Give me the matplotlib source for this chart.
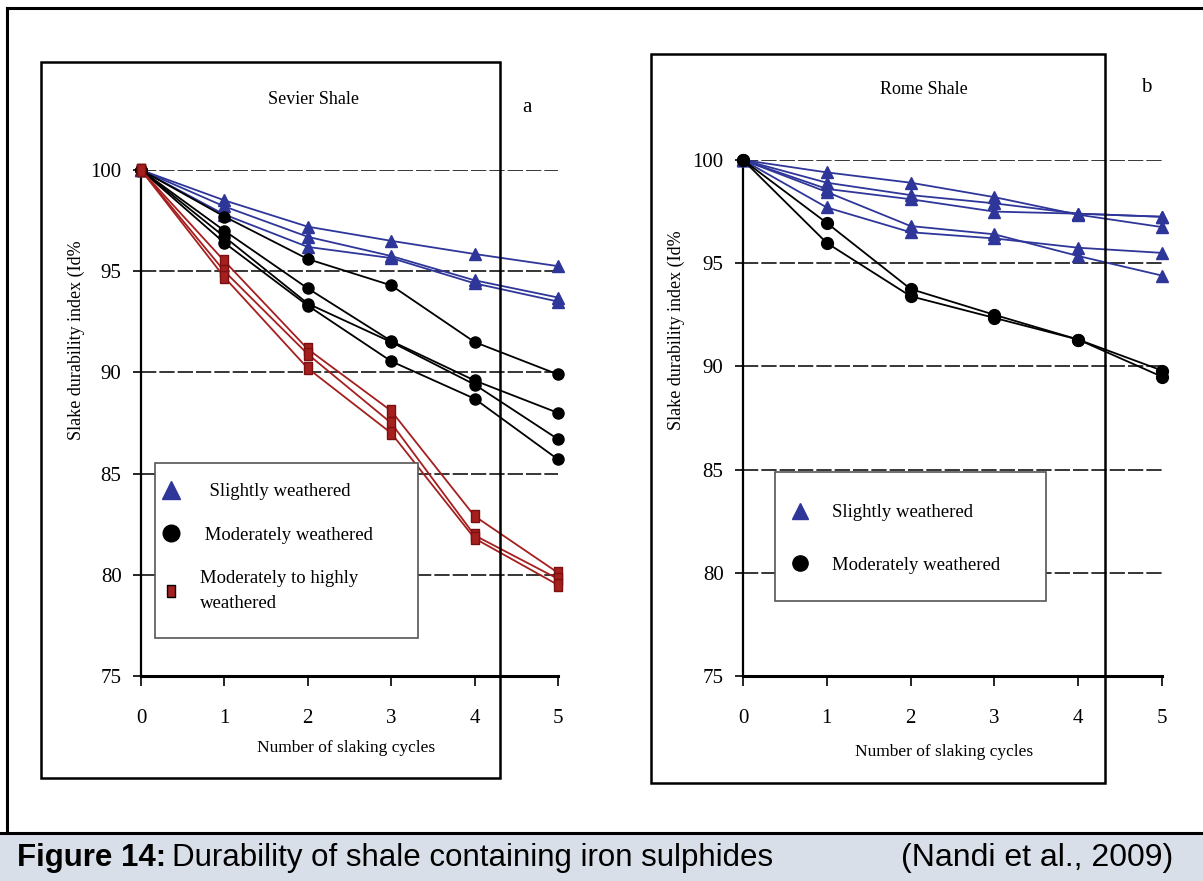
import matplotlib
matplotlib.use("Agg")
import matplotlib.pyplot as plt
from matplotlib.lines import Line2D
from matplotlib.patches import Rectangle

# ---- data ----
cycles = [0, 1, 2, 3, 4, 5]

sevier_slight = [
    [100, 98.5, 97.2, 96.5, 95.85, 95.25],
    [100, 98.2, 96.7, 95.75, 94.55, 93.7],
    [100, 97.8, 96.2, 95.65, 94.4, 93.5],
]
sevier_moderate = [
    [100, 97.7, 95.6, 94.3, 91.5, 89.9],
    [100, 97.0, 94.15, 91.55, 89.6, 88.0],
    [100, 96.7, 93.4, 91.5, 89.4, 86.7],
    [100, 96.4, 93.3, 90.55, 88.7, 85.7],
]
sevier_high = [
    [100, 95.5, 91.15, 88.1, 82.9, 80.1],
    [100, 95.0, 90.9, 87.5, 81.95, 79.8],
    [100, 94.7, 90.2, 87.0, 81.8, 79.5],
]

rome_slight = [
    [100, 99.4, 98.9, 98.2, 97.35, 96.75],
    [100, 98.9, 98.3, 97.9, 97.4, 97.25],
    [100, 98.6, 98.1, 97.5, 97.4, 97.25],
    [100, 98.45, 96.8, 96.4, 95.35, 94.4],
    [100, 97.7, 96.5, 96.2, 95.75, 95.5],
]
rome_moderate = [
    [100, 96.95, 93.75, 92.5, 91.3, 89.8],
    [100, 95.98, 93.4, 92.35, 91.3, 89.5],
]

yticks = [75, 80, 85, 90, 95, 100]

W, H = 1203, 881
BLUE = "#2f3699"
RED = "#a51f1f"
SERIF = "Liberation Serif"
SANS = "Liberation Sans"
rect_marker = [(-0.65, -1), (0.65, -1), (0.65, 1), (-0.65, 1), (-0.65, -1)]


def fx(px):
    return px / W


def fy(py):
    return 1 - py / H


fig = plt.figure(figsize=(W / 100, H / 100), dpi=100)

# outer frame and caption band
fig.add_artist(Line2D([fx(7), fx(7)], [fy(8), fy(833)], color="black", lw=2.2))
fig.add_artist(Line2D([fx(7), 1], [fy(8), fy(8)], color="black", lw=2.2))
fig.add_artist(Rectangle((0, 0), 1, fy(833), facecolor="#d9dfe8", edgecolor="none"))
fig.add_artist(Line2D([0, 1], [fy(833), fy(833)], color="black", lw=2.2))
fig.text(fx(17), fy(858), "Figure 14:", fontsize=22.5, fontweight="bold",
         family=SANS, va="center")
fig.text(fx(172), fy(858), "Durability of shale containing iron sulphides", fontsize=22.5,
         family=SANS, va="center")
fig.text(fx(1173), fy(858), "(Nandi et al., 2009)", fontsize=23,
         family=SANS, va="center", ha="right")

# panel frames
fig.add_artist(Rectangle((fx(41), fy(778)), fx(500) - fx(41), fy(62) - fy(778),
                         facecolor="none", edgecolor="black", lw=1.8))
fig.add_artist(Rectangle((fx(651), fy(783)), fx(1105) - fx(651), fy(54) - fy(783),
                         facecolor="none", edgecolor="black", lw=1.8))


def make_axes(x0, x1, y100, y75):
    ax = fig.add_axes([fx(x0), fy(y75), fx(x1) - fx(x0), fy(y100) - fy(y75)])
    ax.set_xlim(0, 5)
    ax.set_ylim(75, 100)
    for s in ["top", "right"]:
        ax.spines[s].set_visible(False)
    ax.spines["left"].set_linewidth(1.6)
    ax.spines["bottom"].set_linewidth(2.2)
    ax.set_yticks(yticks)
    ax.set_xticks(cycles)
    ax.tick_params(axis="y", direction="out", length=6, width=1.2, pad=8, labelsize=15)
    ax.tick_params(axis="x", direction="out", length=7, width=1.2, pad=17, labelsize=15)
    for lab in ax.get_xticklabels() + ax.get_yticklabels():
        lab.set_family(SERIF)
    ax.grid(axis="y", color="black", linestyle=(0, (10, 2)), linewidth=1.1)
    ax.set_axisbelow(True)
    return ax


def draw(ax, series, color, marker, ms, mec=None):
    for vals in series:
        ax.plot(cycles, vals, color=color, lw=1.3, marker=marker, ms=ms,
                mfc=color, mec=mec or color, clip_on=False, zorder=3)


def legend_box(ax, x0, x1, y0, y1):
    ax.add_patch(Rectangle((fx(x0), fy(y1)), fx(x1) - fx(x0), fy(y0) - fy(y1),
                           transform=fig.transFigure, facecolor="white",
                           edgecolor="#555555", lw=1.2, zorder=4, clip_on=False))


# ---- panel a: Sevier Shale ----
ax1 = make_axes(141, 558, 170, 676)
draw(ax1, sevier_slight, BLUE, "^", 9)
draw(ax1, sevier_moderate, "black", "o", 8)
draw(ax1, sevier_high, RED, rect_marker, 9, mec="#7a1010")

fig.text(fx(314), fy(100), "Sevier Shale", fontsize=13, family=SERIF, ha="center", va="center")
fig.text(fx(527), fy(108), "a", fontsize=15, family=SERIF, ha="center", va="center")
fig.text(fx(76), fy(340), "Slake durability index (Id%", fontsize=13, family=SERIF,
         rotation=90, ha="center", va="center")
fig.text(fx(346), fy(748), "Number of slaking cycles", fontsize=12.5, family=SERIF,
         ha="center", va="center")

legend_box(ax1, 155, 418, 463, 638)
h1 = [
    Line2D([], [], ls="none", marker="^", ms=13, mfc=BLUE, mec=BLUE),
    Line2D([], [], ls="none", marker="o", ms=12, mfc="black", mec="black"),
    Line2D([], [], ls="none", marker=rect_marker, ms=9, mfc=RED, mec="black"),
]
leg1 = ax1.legend(h1, ["  Slightly weathered", " Moderately weathered",
                       "Moderately to highly\nweathered"],
                  loc="upper left", bbox_to_anchor=(fx(147), fy(470)),
                  bbox_transform=fig.transFigure, frameon=False,
                  prop={"family": SERIF, "size": 13.5}, handlelength=1.2,
                  handletextpad=0.9, labelspacing=1.4, borderpad=0.2)
leg1.get_texts()[2].set_linespacing(1.6)
leg1.set_zorder(5)

# ---- panel b: Rome Shale ----
ax2 = make_axes(743, 1162, 160, 676)
draw(ax2, rome_slight, BLUE, "^", 9)
draw(ax2, rome_moderate, "black", "o", 8.5)

fig.text(fx(924), fy(90), "Rome Shale", fontsize=13, family=SERIF, ha="center", va="center")
fig.text(fx(1146), fy(88), "b", fontsize=15, family=SERIF, ha="center", va="center")
fig.text(fx(676), fy(330), "Slake durability index (Id%", fontsize=13, family=SERIF,
         rotation=90, ha="center", va="center")
fig.text(fx(944), fy(752), "Number of slaking cycles", fontsize=12.5, family=SERIF,
         ha="center", va="center")

legend_box(ax2, 775, 1046, 472, 601)
h2 = [
    Line2D([], [], ls="none", marker="^", ms=12, mfc=BLUE, mec=BLUE),
    Line2D([], [], ls="none", marker="o", ms=11, mfc="black", mec="black"),
]
leg2 = ax2.legend(h2, ["Slightly weathered", "Moderately weathered"],
                  loc="upper left", bbox_to_anchor=(fx(774), fy(491)),
                  bbox_transform=fig.transFigure, frameon=False,
                  prop={"family": SERIF, "size": 13.5}, handlelength=1.4,
                  handletextpad=1.0, labelspacing=1.9, borderpad=0.2)
leg2.set_zorder(5)

fig.savefig("out.png", dpi=100)
